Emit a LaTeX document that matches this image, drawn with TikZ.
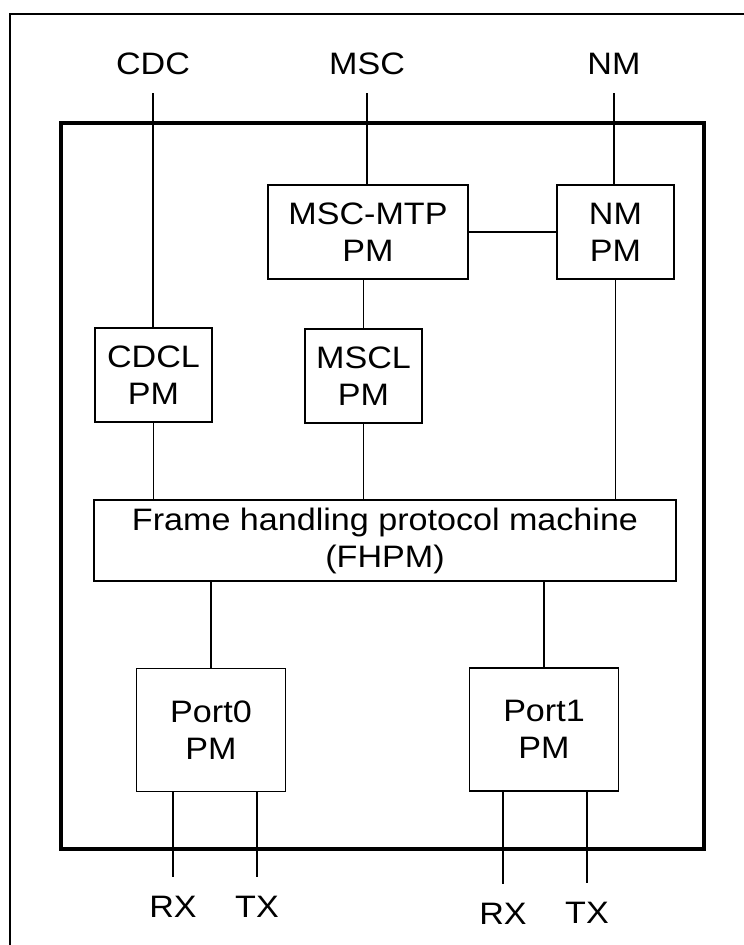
\documentclass[tikz,border=0pt]{standalone}
\usepackage{fontspec}
\setmainfont[FakeStretch=1.1]{Liberation Sans}
\usepackage{tikz}
\usetikzlibrary{positioning,calc}

\begin{document}
\begin{tikzpicture}[x=1pt, y=-1pt, font=\fontsize{31}{37}\selectfont,
    pm/.style={draw, line width=1.8pt, align=center, inner sep=0pt},
    tag/.style={inner sep=0pt, outer sep=19pt, anchor=base},
    wire/.style={line width=1.8pt}]
    \useasboundingbox (0,0) rectangle (744,945);
    % frames
    \draw[line width=1.8pt] (10,950) -- (10,14) -- (750,14);
    \draw[line width=4pt] (61,123) rectangle (704,849);

    % upper layer
    \node[tag] (cdc) at (153,74) {CDC};
    \node[tag] (msc) at (367,74) {MSC};
    \node[tag] (nm) at (614,74) {NM};
    \node[pm, minimum width=200, minimum height=94] (mscmtp) at (368,232) {MSC-MTP\\PM};
    \node[pm, minimum width=117, minimum height=94] (nmpm) at (615.5,232) {NM\\PM};
    \node[pm, minimum width=117, minimum height=94] (cdcl) at (153.5,375) {CDCL\\PM};
    \node[pm, minimum width=117, minimum height=94] (mscl) at (363.5,376) {MSCL\\PM};

    % frame handling
    \node[pm, minimum width=582, minimum height=81] (fhpm) at (385,540.5)
      {Frame handling protocol machine\\(FHPM)};

    % ports
    \node[pm, minimum width=149, minimum height=123] (port0) at (211,730) {Port0\\PM};
    \node[pm, minimum width=149, minimum height=123] (port1) at (544,729.5) {Port1\\PM};
    \node[tag] (rx0) at (173,917) {RX};
    \node[tag] (tx0) at (257,917) {TX};
    \node[tag] (rx1) at (503,924) {RX};
    \node[tag] (tx1) at (587,923) {TX};

    % connectors
    \draw[wire] (cdc.south) -- (cdc.south |- cdcl.north);
    \draw[wire] (msc.south) -- (msc.south |- mscmtp.north);
    \draw[wire] (nm.south) -- (nm.south |- nmpm.north);
    \draw[wire] (mscmtp) -- (nmpm);
    \draw[wire] (mscl |- mscmtp.south) -- (mscl);
    \foreach \u in {cdcl,mscl,nmpm}{
      \draw[wire] (\u) -- (\u |- fhpm.north);
    }
    \draw[wire] (port0 |- fhpm.south) -- (port0);
    \draw[wire] (port1 |- fhpm.south) -- (port1);
    \foreach \u/\v in {rx0/port0,tx0/port0,rx1/port1,tx1/port1}{
      \draw[wire] (\u.north) -- (\u.north |- \v.south);
    }
\end{tikzpicture}
\end{document}
